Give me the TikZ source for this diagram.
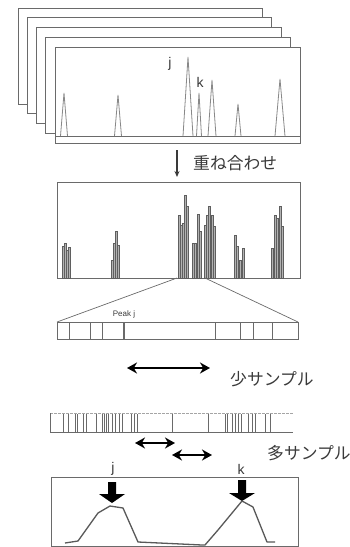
\documentclass[tikz,border=0pt]{standalone}
\usepackage{fontspec}
\setmainfont{Liberation Sans}
\newfontfamily\jp{Noto Sans CJK JP}
\usetikzlibrary{arrows.meta}
\definecolor{frm}{HTML}{6A6A6A}
\definecolor{txt}{HTML}{3A3A3A}
\tikzset{
  frame/.style={draw=frm, line width=0.8pt, fill=white},
  peak/.style={draw=frm!80, line width=0.8pt},
  bar/.style={draw=frm!90!black, fill=gray!60, line width=0.3pt},
  tick/.style={draw=frm, line width=0.7pt},
  dbl/.style={{Stealth[length=10pt,width=11pt]}-{Stealth[length=10pt,width=11pt]}, line width=2.2pt, black},
  jtext/.style={font=\jp\fontsize{16.8}{17}\selectfont, text=txt, anchor=west, inner sep=0pt},
  ltext/.style={font=\fontsize{14}{14}\selectfont, text=txt, inner sep=0pt},
  curve/.style={draw=gray!70!black, line width=1.3pt, line join=round},
  block/.style={fill=black, draw=none}
}
\begin{document}
\begin{tikzpicture}[x=1pt,y=-1pt]
\useasboundingbox (0,0) rectangle (350,547);
% stacked frames
\foreach \i in {0,1,2,3} {
  \draw[frame] ({18+9.25*\i},{8+9.75*\i}) rectangle ({262+9.5*\i},{104+9.75*\i});
}
\draw[frame] (55,47) rectangle (300,143);
\draw[frm, line width=0.8pt] (55,136) -- (300,136);
% peaks
\foreach \x/\y/\w in {64/93/3.5, 118/95/3.5, 188/57/5, 199/93/2.5, 212/80/4, 238/104/3, 280/79/5} {
  \draw[peak] ({\x-\w},136) -- (\x,\y) -- ({\x+\w},136);
}
\node[ltext] (j1) at (170,64) {j};
\node[ltext] (k1) at (200,82) {k};
% overlay arrow
\coordinate (a1) at (177,150);
\coordinate (a2) at (177,177);
\draw[-{Stealth[length=6pt,width=5pt]}, line width=1.2pt, txt] (a1) -- (a2);
\node[jtext] (ov) at (193,163) {重ね合わせ};
% middle frame
\draw[frame] (57,182) rectangle (300,278);
\foreach \x/\t in {63/246, 65/243, 67/250, 69/247,
  112/260, 114/243, 116/231, 118/245,
  179/215, 181/225, 183/223, 185/195, 187/206,
  193/243, 195/243, 198/214, 200/231,
  205/225, 207/215, 209/206, 212/215, 214/226,
  235/235, 237/246, 240/260, 243/248,
  272/248, 275/215, 277/218, 280/206, 282/226} {
  \draw[bar] ({\x-1},278) rectangle ({\x+1},\t);
}
% zoom lines
\coordinate (zl1) at (177,278);
\coordinate (zr1) at (205,278);
\coordinate (zl2) at (57,322);
\coordinate (zr2) at (298,322);
\draw[frm, line width=0.7pt] (zl1) -- (zl2);
\draw[frm, line width=0.7pt] (zr1) -- (zr2);
% first strip
\draw[frame] (57,322) rectangle (298,339);
\foreach \x in {69, 90, 102, 215, 240, 253, 272} {
  \draw[tick] (\x,322) -- (\x,339);
}
\draw[tick, line width=1.3pt] (124,322) -- (124,339);
\node[font=\fontsize{8}{8}\selectfont, text=txt, inner sep=0pt] (pk) at (124,314) {Peak j};
% few-sample arrow
\coordinate (f1) at (127,368);
\coordinate (f2) at (210,368);
\draw[dbl] (f1) -- (f2);
\node[jtext] (few) at (230,379) {少サンプル};
% second strip
\draw[frm!60, line width=0.6pt, dash pattern=on 3pt off 1pt] (50,413) -- (293,413);
\draw[frm, line width=0.8pt] (50,432) -- (293,432);
\draw[tick] (50,413) -- (50,432);
\foreach \x in {63, 68, 75, 77, 83, 86, 96, 102, 104, 106, 108, 112, 115, 119, 122, 131, 134, 137,
  172, 208, 225, 227, 232, 235, 238, 241, 248, 252, 255, 265, 270} {
  \draw[tick, line width=0.6pt] (\x,414) -- (\x,432);
}
% many-sample arrows
\coordinate (m1) at (135,443);
\coordinate (m2) at (175,443);
\coordinate (m3) at (172,455);
\coordinate (m4) at (212,455);
\draw[dbl] (m1) -- (m2);
\draw[dbl] (m3) -- (m4);
\node[jtext] (many) at (267,453) {多サンプル};
% bottom frame
\node[ltext] (j2) at (113,469) {j};
\node[ltext] (k2) at (241,469) {k};
\draw[frame] (51,477) rectangle (298,546);
\foreach \x/\tp/\hd/\tip in {112/482/494/503, 242/480/493/501} {
  \fill[block] ({\x-4},\tp) -- ({\x+4},\tp) -- ({\x+4},\hd) -- ({\x+13},\hd) -- (\x,\tip)
     -- ({\x-13},\hd) -- ({\x-4},\hd) -- cycle;
}
\draw[curve] (65,543) -- (78,541) -- (98,513) -- (110,506) -- (123,508) -- (138,542)
  -- (202,545) -- (205,545) -- (218,530) -- (242,501) -- (253,507) -- (267,542) -- (275,542);
\end{tikzpicture}
\end{document}
